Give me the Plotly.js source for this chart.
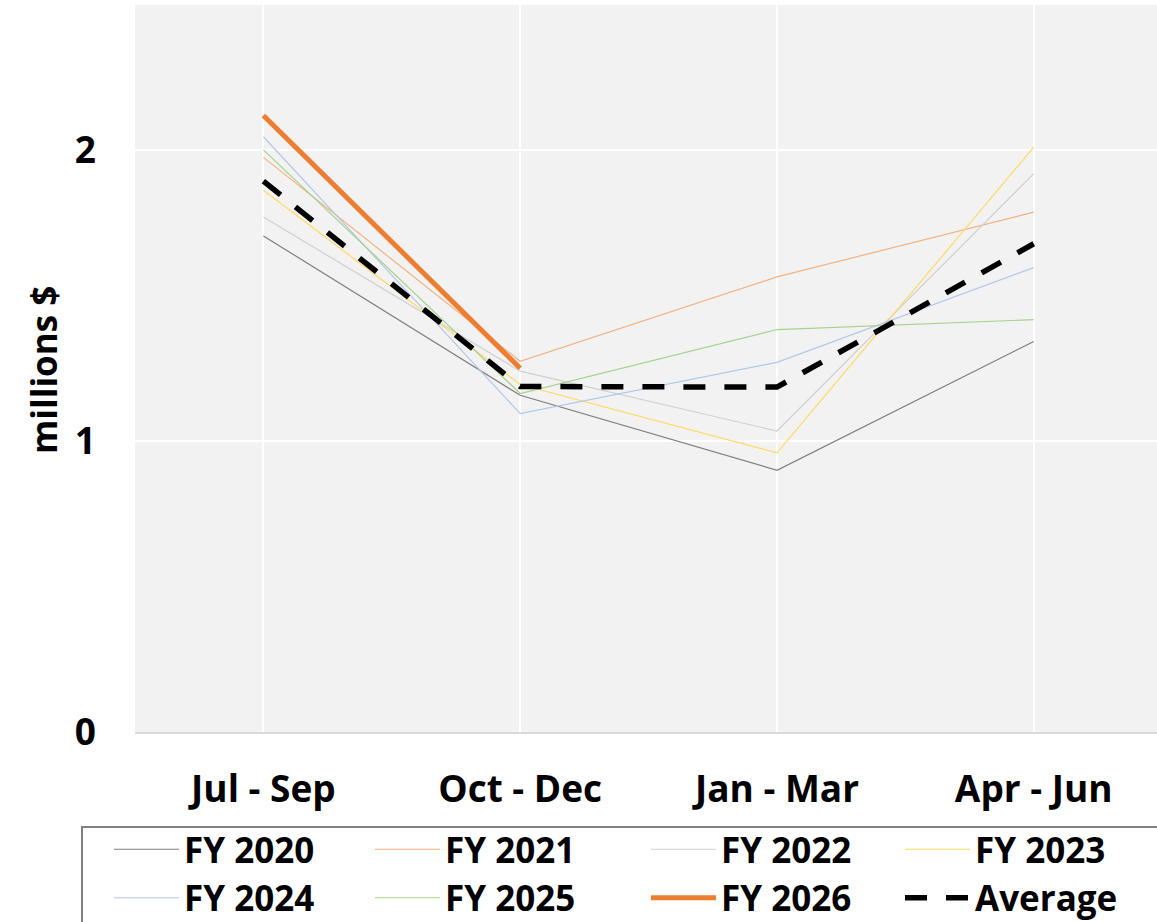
<!DOCTYPE html>
<html>
<head>
<meta charset="utf-8">
<script src="https://cdn.plot.ly/plotly-3.0.1.min.js"></script>
<style>html,body{margin:0;padding:0;background:#fff;}#chart{width:1157px;height:922px;}</style>
</head>
<body>
<div id="chart"></div>
<script>
const quarters = ["Jul - Sep", "Oct - Dec", "Jan - Mar", "Apr - Jun"];
const fy2020 = [1.706, 1.158, 0.900, 1.343];
const fy2021 = [1.976, 1.275, 1.565, 1.788];
const fy2022 = [1.771, 1.241, 1.035, 1.920];
const fy2023 = [1.863, 1.195, 0.960, 2.011];
const fy2024 = [2.047, 1.095, 1.271, 1.597];
const fy2025 = [2.002, 1.164, 1.384, 1.418];
const fy2026 = [2.120, 1.251, null, null];
const average = [1.894, 1.188, 1.186, 1.679];
const yTicks = [0, 1, 2];
const yTitle = "millions $";

const FONT = "Open Sans, Lato, Liberation Sans, sans-serif";
const W = 1157, H = 922;

function thin(name, y, color, lg) {
  return {x: quarters, y: y, name: name, type: "scatter", mode: "lines",
          legend: lg, line: {color: color, width: 1.2}};
}
const traces = [
  thin("FY 2020", fy2020, "#7f7f7f", "legend"),
  thin("FY 2021", fy2021, "#f4b183", "legend2"),
  thin("FY 2022", fy2022, "#d0d0d0", "legend3"),
  thin("FY 2023", fy2023, "#ffd966", "legend4"),
  thin("FY 2024", fy2024, "#b4c7e7", "legend"),
  thin("FY 2025", fy2025, "#a9d18e", "legend2"),
  {x: quarters, y: fy2026, name: "FY 2026", type: "scatter", mode: "lines",
   legend: "legend3", line: {color: "#ed7d31", width: 5}},
  {x: quarters, y: average, name: "Average", type: "scatter", mode: "lines",
   legend: "legend4", line: {color: "#000000", width: 5.5, dash: "22px,19px"}}
];

function legendAt(px, top) {
  return {
    xref: "container", yref: "container",
    x: px / W, xanchor: "left", y: 1 - top / H, yanchor: "top",
    orientation: "v", itemwidth: 65, tracegroupgap: 0,
    font: {family: FONT, size: 35, weight: "bold", color: "#000"},
    bgcolor: "rgba(0,0,0,0)", borderwidth: 0, traceorder: "normal"
  };
}

const layout = {
  width: W, height: H,
  margin: {l: 135, r: 0, t: 5, b: 190, autoexpand: false},
  paper_bgcolor: "#ffffff",
  plot_bgcolor: "#f2f2f2",
  font: {family: FONT, color: "#000", size: 30},
  showlegend: true,
  xaxis: {
    type: "category", range: [-0.5, 3.48],
    showgrid: true, gridcolor: "#ffffff", gridwidth: 2,
    showline: true, linecolor: "#d9d9d9", linewidth: 1.5,
    zeroline: false, ticks: "", ticklabelstandoff: 24,
    tickfont: {family: FONT, size: 37, weight: "bold", color: "#000"}
  },
  yaxis: {
    range: [0, 2.5], tickvals: yTicks, ticktext: yTicks.map(String),
    showgrid: true, gridcolor: "#ffffff", gridwidth: 2,
    zeroline: false, showline: false, ticks: "", ticklabelstandoff: 38,
    tickfont: {family: FONT, size: 37, weight: "bold", color: "#000"}
  },
  annotations: [{
    text: yTitle, xref: "paper", yref: "paper",
    x: (44 - 135) / 1022, y: (732 - 370) / 727,
    xanchor: "center", yanchor: "middle", textangle: -90, showarrow: false,
    font: {family: FONT, size: 35, weight: "bold", color: "#000"}
  }],
  legend: legendAt(109, 820),
  legend2: legendAt(370, 820),
  legend3: legendAt(646, 820),
  legend4: legendAt(900, 820),
  shapes: [{
    type: "rect", xref: "paper", yref: "paper",
    x0: -53/1022, x1: 1.1, y0: (732-827)/727, y1: -0.5,
    line: {color: "#808080", width: 2}, fillcolor: "rgba(0,0,0,0)", layer: "below"
  }]
};

Plotly.newPlot("chart", traces, layout, {displayModeBar: false, staticPlot: true});
</script>
</body>
</html>
